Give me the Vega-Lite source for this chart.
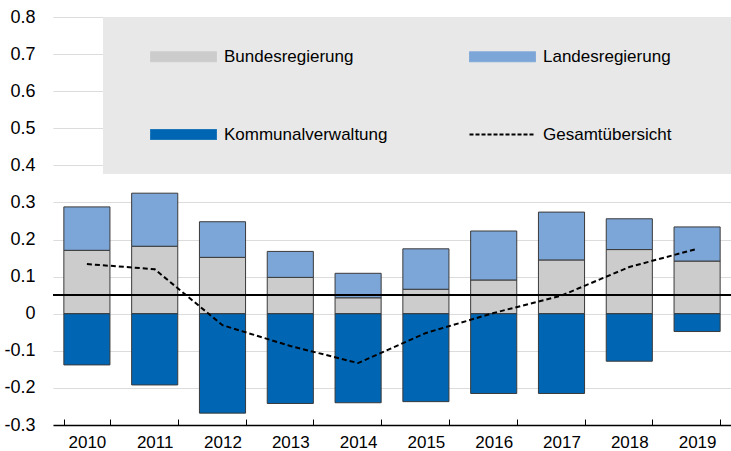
{
  "$schema": "https://vega.github.io/schema/vega-lite/v6.json",
  "width": 678,
  "height": 408,
  "autosize": {"type": "none"},
  "padding": {"left": 53, "top": 17, "right": 0, "bottom": 26},
  "background": "white",
  "config": {
    "font": "Liberation Sans",
    "view": {"stroke": null}
  },
  "data": {
    "values": [
      {"year": "2010", "series": "Bundesregierung", "value": 0.171},
      {"year": "2010", "series": "Landesregierung", "value": 0.117},
      {"year": "2010", "series": "Kommunalverwaltung", "value": -0.138},
      {"year": "2010", "series": "Gesamtübersicht", "value": 0.134},
      {"year": "2011", "series": "Bundesregierung", "value": 0.182},
      {"year": "2011", "series": "Landesregierung", "value": 0.143},
      {"year": "2011", "series": "Kommunalverwaltung", "value": -0.192},
      {"year": "2011", "series": "Gesamtübersicht", "value": 0.12},
      {"year": "2012", "series": "Bundesregierung", "value": 0.152},
      {"year": "2012", "series": "Landesregierung", "value": 0.096},
      {"year": "2012", "series": "Kommunalverwaltung", "value": -0.268},
      {"year": "2012", "series": "Gesamtübersicht", "value": -0.031},
      {"year": "2013", "series": "Bundesregierung", "value": 0.098},
      {"year": "2013", "series": "Landesregierung", "value": 0.07},
      {"year": "2013", "series": "Kommunalverwaltung", "value": -0.242},
      {"year": "2013", "series": "Gesamtübersicht", "value": -0.087},
      {"year": "2014", "series": "Bundesregierung", "value": 0.043},
      {"year": "2014", "series": "Landesregierung", "value": 0.066},
      {"year": "2014", "series": "Kommunalverwaltung", "value": -0.24},
      {"year": "2014", "series": "Gesamtübersicht", "value": -0.133},
      {"year": "2015", "series": "Bundesregierung", "value": 0.066},
      {"year": "2015", "series": "Landesregierung", "value": 0.109},
      {"year": "2015", "series": "Kommunalverwaltung", "value": -0.237},
      {"year": "2015", "series": "Gesamtübersicht", "value": -0.052},
      {"year": "2016", "series": "Bundesregierung", "value": 0.091},
      {"year": "2016", "series": "Landesregierung", "value": 0.132},
      {"year": "2016", "series": "Kommunalverwaltung", "value": -0.215},
      {"year": "2016", "series": "Gesamtübersicht", "value": 0.002},
      {"year": "2017", "series": "Bundesregierung", "value": 0.145},
      {"year": "2017", "series": "Landesregierung", "value": 0.129},
      {"year": "2017", "series": "Kommunalverwaltung", "value": -0.215},
      {"year": "2017", "series": "Gesamtübersicht", "value": 0.049},
      {"year": "2018", "series": "Bundesregierung", "value": 0.173},
      {"year": "2018", "series": "Landesregierung", "value": 0.083},
      {"year": "2018", "series": "Kommunalverwaltung", "value": -0.128},
      {"year": "2018", "series": "Gesamtübersicht", "value": 0.126},
      {"year": "2019", "series": "Bundesregierung", "value": 0.142},
      {"year": "2019", "series": "Landesregierung", "value": 0.092},
      {"year": "2019", "series": "Kommunalverwaltung", "value": -0.048},
      {"year": "2019", "series": "Gesamtübersicht", "value": 0.175}
    ]
  },
  "encoding": {
    "x": {
      "field": "year",
      "type": "ordinal",
      "scale": {"paddingInner": 0.32, "paddingOuter": 0.16},
      "axis": {
        "title": null,
        "labelAngle": 0,
        "labelFontSize": 17,
        "labelColor": "#000000",
        "labelPadding": 15,
        "tickBand": "extent",
        "tickSize": -6,
        "tickColor": "#000000",
        "tickWidth": 1,
        "domainColor": "#000000",
        "domainWidth": 1.5,
        "grid": false
      }
    }
  },
  "layer": [
    {
      "transform": [{"filter": "datum.series !== 'Gesamtübersicht'"}],
      "mark": {"type": "bar", "stroke": "#3a3a3a", "strokeWidth": 1},
      "encoding": {
        "y": {
          "field": "value",
          "type": "quantitative",
          "stack": "zero",
          "scale": {"domain": [-0.3, 0.8], "nice": false, "zero": false},
          "axis": {
            "title": null,
            "values": [-0.3, -0.2, -0.1, 0, 0.1, 0.2, 0.3, 0.4, 0.5, 0.6, 0.7, 0.8],
            "tickCount": 20,
            "labelExpr": "replace(format(datum.value, '.1~f'), '\u2212', '-')",
            "labelOverlap": false,
            "labelFontSize": 18,
            "labelColor": "#000000",
            "labelPadding": 18,
            "ticks": false,
            "domain": false,
            "grid": true,
            "gridColor": "#dcdcdc",
            "gridWidth": 1.2
          }
        },
        "color": {
          "field": "series",
          "type": "nominal",
          "scale": {
            "domain": ["Bundesregierung", "Landesregierung", "Kommunalverwaltung", "Gesamtübersicht"],
            "range": ["#cccccc", "#7da6d8", "#0066b3", "#000000"]
          },
          "legend": {
            "title": "\u00a0",
            "titleOrient": "right",
            "titlePadding": 44,
            "titleFontSize": 17,
            "orient": "none",
            "legendX": 50,
            "legendY": 0,
            "columns": 2,
            "direction": "horizontal",
            "fillColor": "#e8e8e8",
            "padding": 31,
            "rowPadding": 60,
            "columnPadding": 65,
            "symbolOffset": 16,
            "symbolSize": 256,
            "symbolType": "M-1,-0.625H7.25V0.625H-1Z",
            "symbolStrokeColor": "#3a3a3a",
            "symbolStrokeWidth": 1,
            "labelOffset": 57,
            "labelFontSize": 17,
            "labelColor": "#000000",
            "labelLimit": 300,
            "encode": {
              "symbols": {
                "update": {
                  "shape": {"signal": "datum.label === 'Gesamtübersicht' ? 'M-1,0H7.25' : 'M-1,-0.625H7.25V0.625H-1Z'"},
                  "strokeDash": {"signal": "datum.label === 'Gesamtübersicht' ? [4, 2] : [1, 0]"},
                  "strokeWidth": {"signal": "datum.label === 'Gesamtübersicht' ? 2 : 1"},
                  "stroke": {"signal": "datum.label === 'Gesamtübersicht' ? '#000000' : '#3a3a3a'"},
                  "fill": {"signal": "datum.label === 'Gesamtübersicht' ? 'transparent' : scale('color', datum.value)"},
                  "opacity": {"value": 1}
                }
              }
            }
          }
        },
        "order": {"field": "series", "sort": "ascending"}
      }
    },
    {
      "mark": {"type": "rule", "color": "#000000", "strokeWidth": 1.5},
      "encoding": {"y": {"datum": 0.05, "type": "quantitative"}, "x": {"value": 0}, "x2": {"value": 678}}
    },
    {
      "transform": [{"filter": "datum.series === 'Gesamtübersicht'"}],
      "mark": {"type": "line", "strokeDash": [5, 3], "strokeWidth": 2},
      "encoding": {
        "y": {"field": "value", "type": "quantitative"},
        "color": {"field": "series", "type": "nominal"}
      }
    }
  ]
}
